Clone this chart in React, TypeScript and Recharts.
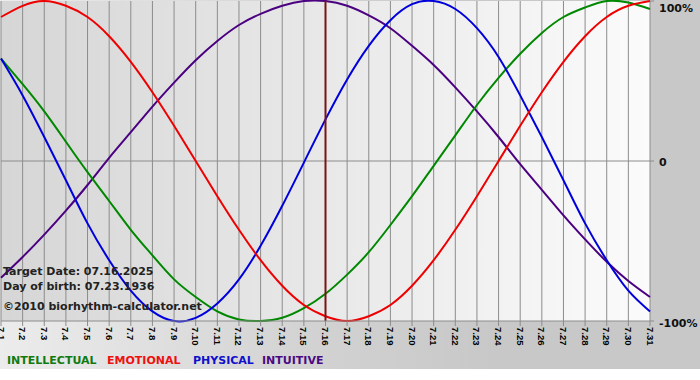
import { CartesianGrid, Line, LineChart, ReferenceLine, XAxis, YAxis } from "recharts";

const dates = [
  "7.1", "7.2", "7.3", "7.4", "7.5", "7.6", "7.7", "7.8", "7.9", "7.10",
  "7.11", "7.12", "7.13", "7.14", "7.15", "7.16", "7.17", "7.18", "7.19", "7.20",
  "7.21", "7.22", "7.23", "7.24", "7.25", "7.26", "7.27", "7.28", "7.29", "7.30", "7.31",
];

const intellectual = [
  0.64, 0.48, 0.31, 0.12, -0.07, -0.25, -0.43, -0.59, -0.74, -0.85,
  -0.94, -0.99, -1.0, -0.98, -0.92, -0.83, -0.71, -0.57, -0.4, -0.22,
  -0.03, 0.16, 0.35, 0.52, 0.67, 0.8, 0.9, 0.96, 1.0, 0.99, 0.95,
];
const emotional = [
  0.9, 0.97, 1.0, 0.97, 0.9, 0.78, 0.62, 0.43, 0.22, 0.0,
  -0.22, -0.43, -0.62, -0.78, -0.9, -0.97, -1.0, -0.97, -0.9, -0.78,
  -0.62, -0.43, -0.22, 0.0, 0.22, 0.43, 0.62, 0.78, 0.9, 0.97, 1.0,
];
const physical = [
  0.64, 0.41, 0.15, -0.12, -0.39, -0.62, -0.81, -0.94, -1.0, -0.98,
  -0.89, -0.74, -0.53, -0.28, -0.01, 0.26, 0.51, 0.72, 0.88, 0.98,
  1.0, 0.95, 0.83, 0.65, 0.41, 0.15, -0.12, -0.39, -0.62, -0.81, -0.94,
];
const intuitive = [
  -0.73, -0.6, -0.46, -0.31, -0.15, 0.02, 0.18, 0.34, 0.49, 0.63,
  0.75, 0.85, 0.92, 0.97, 1.0, 1.0, 0.97, 0.91, 0.83, 0.72,
  0.6, 0.46, 0.31, 0.15, -0.02, -0.18, -0.34, -0.49, -0.63, -0.75, -0.85,
];

const yTicks = [-1, 0, 1];
const yLabels = ["-100%", "0", "100%"];
const targetDay = 16;

const rows = dates.map((label, i) => ({
  day: i + 1,
  label,
  intellectual: intellectual[i],
  emotional: emotional[i],
  physical: physical[i],
  intuitive: intuitive[i],
}));

const verdana = '"DejaVu Sans", Verdana, sans-serif';

function DateTick({ x, y, payload }: any) {
  return (
    <text
      x={x}
      y={y}
      transform={`rotate(90, ${x}, ${y})`}
      textAnchor="start"
      dominantBaseline="central"
      fontSize={9.5}
      fontWeight="bold"
      fontFamily='"Liberation Sans", Arial, sans-serif'
      fill="#000"
    >
      {dates[payload.value - 1]}
    </text>
  );
}

function PercentTick({ x, y, payload }: any) {
  const shift = payload.value === 1 ? -1 : payload.value === 0 ? 1 : 2;
  return (
    <text
      x={x}
      y={y + shift}
      textAnchor="start"
      dominantBaseline="central"
      fontSize={11}
      fontWeight="bold"
      fontFamily={verdana}
      fill="#111"
    >
      {yLabels[yTicks.indexOf(payload.value)]}
    </text>
  );
}

const legend = [
  { name: "INTELLECTUAL", color: "#107a10", left: 7 },
  { name: "EMOTIONAL", color: "#ee1111", left: 107 },
  { name: "PHYSICAL", color: "#1010cc", left: 193 },
  { name: "INTUITIVE", color: "#4b0a82", left: 262 },
];

const notes = [
  { text: "Target Date: 07.16.2025", top: 265 },
  { text: "Day of birth: 07.23.1936", top: 280 },
  { text: "\u00a92010 biorhythm-calculator.net", top: 300 },
];

export default function App() {
  return (
    <div style={{ position: "relative", width: 700, height: 380, background: "#fff" }}>
      <style>{"body{margin:0}"}</style>
      <div
        style={{
          position: "absolute",
          left: 0,
          top: 0,
          width: 700,
          height: 369,
          background: "linear-gradient(to right, #ececec 0%, #d2d2d2 45%, #c8c8c8 70%, #c8c8c8 100%)",
        }}
      >
        <LineChart width={700} height={369} data={rows} margin={{ top: 1, right: 0, bottom: 0, left: 1 }}>
          <defs>
            <linearGradient id="plotBg" x1="0" y1="0" x2="1" y2="0">
              <stop offset="0%" stopColor="#d6d6d6" />
              <stop offset="100%" stopColor="#fbfbfb" />
            </linearGradient>
          </defs>
          <CartesianGrid horizontal={false} stroke="#8c8c8c" fill="url(#plotBg)" fillOpacity={1} />
          <XAxis
            dataKey="day"
            type="number"
            domain={[1, 31]}
            ticks={rows.map((r) => r.day)}
            interval={0}
            height={48}
            stroke="#8c8c8c"
            tickSize={5}
            tickMargin={1}
            tick={<DateTick />}
          />
          <YAxis
            yAxisId={0}
            orientation="right"
            type="number"
            domain={[-1, 1]}
            ticks={yTicks}
            width={50}
            axisLine={false}
            stroke="#8c8c8c"
            tickSize={4}
            tickMargin={5}
            tick={<PercentTick />}
          />
          <ReferenceLine y={0} stroke="#8c8c8c" />
          <Line type="natural" dataKey="intuitive" stroke="#4b0082" strokeWidth={2} dot={false} isAnimationActive={false} />
          <Line type="natural" dataKey="intellectual" stroke="#008800" strokeWidth={2} dot={false} isAnimationActive={false} />
          <Line type="natural" dataKey="physical" stroke="#0000dd" strokeWidth={2} dot={false} isAnimationActive={false} />
          <Line type="natural" dataKey="emotional" stroke="#ee0000" strokeWidth={2} dot={false} isAnimationActive={false} />
          <ReferenceLine x={targetDay} stroke="#7a1414" strokeWidth={2} />
        </LineChart>
      </div>
      {notes.map((n) => (
        <div
          key={n.text}
          style={{
            position: "absolute",
            left: 3,
            top: n.top,
            fontFamily: verdana,
            fontWeight: "bold",
            fontSize: 11,
            color: "#222",
            whiteSpace: "nowrap",
          }}
        >
          {n.text}
        </div>
      ))}
      {legend.map((l) => (
        <div
          key={l.name}
          style={{
            position: "absolute",
            left: l.left,
            top: 354,
            fontFamily: verdana,
            fontWeight: "bold",
            fontSize: 11,
            color: l.color,
            whiteSpace: "nowrap",
          }}
        >
          {l.name}
        </div>
      ))}
    </div>
  );
}
